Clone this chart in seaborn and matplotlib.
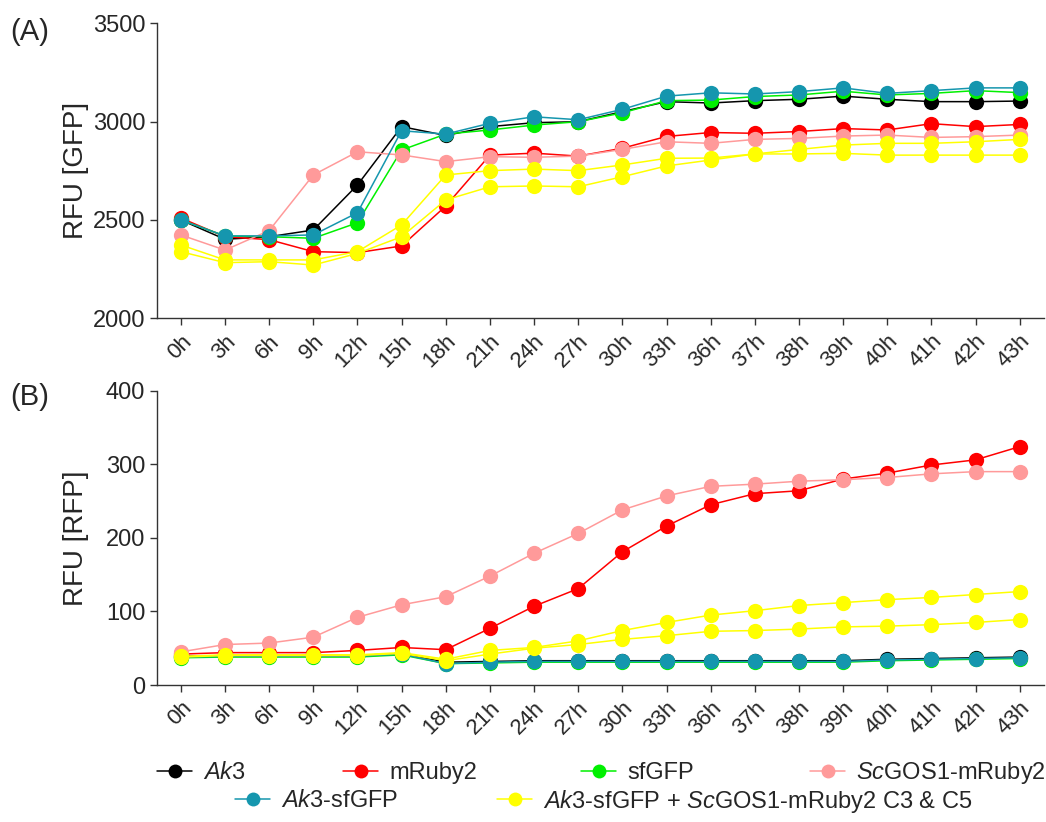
import matplotlib
matplotlib.use("Agg")
import matplotlib.pyplot as plt
import numpy as np
import pandas as pd
import seaborn as sns
from matplotlib.lines import Line2D

# ---- data -------------------------------------------------------------
times = ["0h", "3h", "6h", "9h", "12h", "15h", "18h", "21h", "24h", "27h",
         "30h", "33h", "36h", "37h", "38h", "39h", "40h", "41h", "42h", "43h"]

strains = ["Ak3", "mRuby2", "sfGFP", "ScGOS1-mRuby2", "Ak3-sfGFP",
           "Ak3-sfGFP + ScGOS1-mRuby2 C3", "Ak3-sfGFP + ScGOS1-mRuby2 C5"]

# GFP fluorescence (panel A)
gfp_ak3 = [2500, 2402, 2415, 2449, 2678, 2975, 2930, 2975, 2995, 3000,
           3051, 3102, 3095, 3107, 3114, 3130, 3114, 3102, 3102, 3105]
gfp_mruby2 = [2510, 2415, 2400, 2339, 2334, 2368, 2571, 2830, 2840, 2825,
              2865, 2925, 2945, 2941, 2950, 2965, 2958, 2990, 2975, 2986]
gfp_sfgfp = [2500, 2419, 2415, 2407, 2486, 2856, 2937, 2958, 2983, 3000,
             3045, 3107, 3110, 3128, 3136, 3155, 3136, 3144, 3158, 3148]
gfp_scgos1 = [2424, 2347, 2446, 2729, 2847, 2831, 2797, 2822, 2819, 2825,
              2859, 2898, 2890, 2910, 2915, 2927, 2932, 2920, 2924, 2932]
gfp_ak3_sfgfp = [2500, 2419, 2419, 2424, 2537, 2954, 2937, 2992, 3025, 3010,
                 3063, 3130, 3147, 3141, 3153, 3172, 3144, 3158, 3172, 3172]
gfp_c3 = [2373, 2297, 2297, 2297, 2339, 2475, 2729, 2751, 2759, 2751,
          2780, 2814, 2815, 2836, 2859, 2881, 2890, 2890, 2898, 2910]
gfp_c5 = [2339, 2283, 2288, 2271, 2330, 2415, 2602, 2669, 2673, 2669,
          2720, 2775, 2805, 2836, 2836, 2839, 2830, 2830, 2830, 2830]

# RFP fluorescence (panel B)
rfp_ak3 = [39, 40, 40, 40, 40, 43, 31, 32, 33, 33,
           33, 33, 33, 33, 33, 33, 35, 36, 37, 38]
rfp_mruby2 = [42, 44, 44, 44, 47, 51, 48, 77, 107, 131,
              181, 216, 245, 260, 264, 280, 288, 299, 306, 324]
rfp_sfgfp = [37, 38, 38, 38, 38, 41, 29, 30, 31, 31,
             31, 31, 31, 31, 31, 31, 33, 34, 35, 36]
rfp_scgos1 = [45, 55, 57, 65, 92, 109, 120, 148, 179, 206,
              238, 257, 270, 273, 277, 279, 282, 287, 290, 290]
rfp_ak3_sfgfp = [38, 39, 39, 39, 39, 42, 29, 31, 32, 32,
                 32, 32, 32, 32, 32, 32, 34, 35, 36, 37]
rfp_c3 = [39, 41, 41, 41, 41, 44, 35, 47, 51, 60,
          74, 85, 95, 101, 108, 112, 116, 119, 123, 127]
rfp_c5 = [38, 40, 40, 40, 40, 43, 33, 42, 50, 55,
          62, 67, 73, 74, 76, 79, 80, 82, 85, 89]

colors = ["#000000", "#ff0000", "#00f000", "#ff9a9a", "#1596ae",
          "#ffff00", "#ffff00"]
palette = dict(zip(strains, colors))

legend_rows = [
    [("$\\mathit{Ak3}$", 0), ("mRuby2", 1), ("sfGFP", 2),
     ("$\\mathit{Sc}$GOS1-mRuby2", 3)],
    [("$\\mathit{Ak3}$-sfGFP", 4),
     ("$\\mathit{Ak3}$-sfGFP + $\\mathit{Sc}$GOS1-mRuby2 C3 & C5", 5)],
]


def long_frame(series):
    rows = []
    for name, vals in zip(strains, series):
        for t, v in zip(times, vals):
            rows.append({"time": t, "value": v, "strain": name})
    return pd.DataFrame(rows)


df_gfp = long_frame([gfp_ak3, gfp_mruby2, gfp_sfgfp, gfp_scgos1,
                     gfp_ak3_sfgfp, gfp_c3, gfp_c5])
df_rfp = long_frame([rfp_ak3, rfp_mruby2, rfp_sfgfp, rfp_scgos1,
                     rfp_ak3_sfgfp, rfp_c3, rfp_c5])

# ---- style ------------------------------------------------------------
sns.set_theme(style="ticks")
plt.rcParams["font.family"] = ["Liberation Sans", "DejaVu Sans"]
plt.rcParams["mathtext.fontset"] = "custom"
plt.rcParams["mathtext.rm"] = "Liberation Sans"
plt.rcParams["mathtext.it"] = "Liberation Sans:italic"
plt.rcParams["axes.edgecolor"] = "#333333"
plt.rcParams["axes.linewidth"] = 1.0

W, H = 1046, 822
fig = plt.figure(figsize=(W / 100, H / 100), dpi=100)
left, right = 157, 1044
axA = fig.add_axes([left / W, 1 - 318.3 / H, (right - left) / W, (318.3 - 23.4) / H])
axB = fig.add_axes([left / W, 1 - 685 / H, (right - left) / W, (685 - 390.7) / H])


def draw(ax, df, ylim, yticks, ylabel):
    sns.lineplot(data=df, x="time", y="value", hue="strain",
                 hue_order=strains, palette=palette, marker="o",
                 markersize=11, markeredgewidth=0, linewidth=1.1,
                 legend=False, ax=ax, sort=False)
    ax.set_xlim(-0.54, len(times) - 1 + 0.55)
    ax.set_ylim(*ylim)
    ax.set_yticks(yticks)
    ax.set_xticks(range(len(times)))
    ax.set_xticklabels(times, rotation=45, ha="right",
                       rotation_mode="anchor", fontsize=16)
    ax.tick_params(axis="y", labelsize=17, length=5, width=1.0,
                   color="#333333", pad=3.5)
    ax.tick_params(axis="x", length=5, width=1.0, color="#333333", pad=4)
    ax.set_xlabel("")
    ax.set_ylabel(ylabel, fontsize=20)
    ax.yaxis.set_label_coords(-0.077, 0.5)
    sns.despine(ax=ax)


draw(axA, df_gfp, (2000, 3500), [2000, 2500, 3000, 3500], "RFU [GFP]")
draw(axB, df_rfp, (0, 400), [0, 100, 200, 300, 400], "RFU [RFP]")

fig.text(10 / W, 1 - 32 / H, "(A)", fontsize=21, ha="left", va="center")
fig.text(10 / W, 1 - 397 / H, "(B)", fontsize=21, ha="left", va="center")

# ---- legend: two centred rows with fixed column starts -----------------
row_y = [773, 801]
row_x = [[157, 343, 581, 810], [235, 497]]
for entries, y, xs in zip(legend_rows, row_y, row_x):
    for (label, idx), x in zip(entries, xs):
        h = Line2D([], [], color=colors[idx], marker="o", markersize=10,
                   markeredgewidth=0, linewidth=1.1)
        fig.legend(handles=[h], labels=[label], loc="center left",
                   bbox_to_anchor=(x / W, 1 - y / H), frameon=False,
                   fontsize=17, handlelength=1.5, handletextpad=0.45,
                   borderpad=0, borderaxespad=0)

fig.savefig("out.png", dpi=100)
